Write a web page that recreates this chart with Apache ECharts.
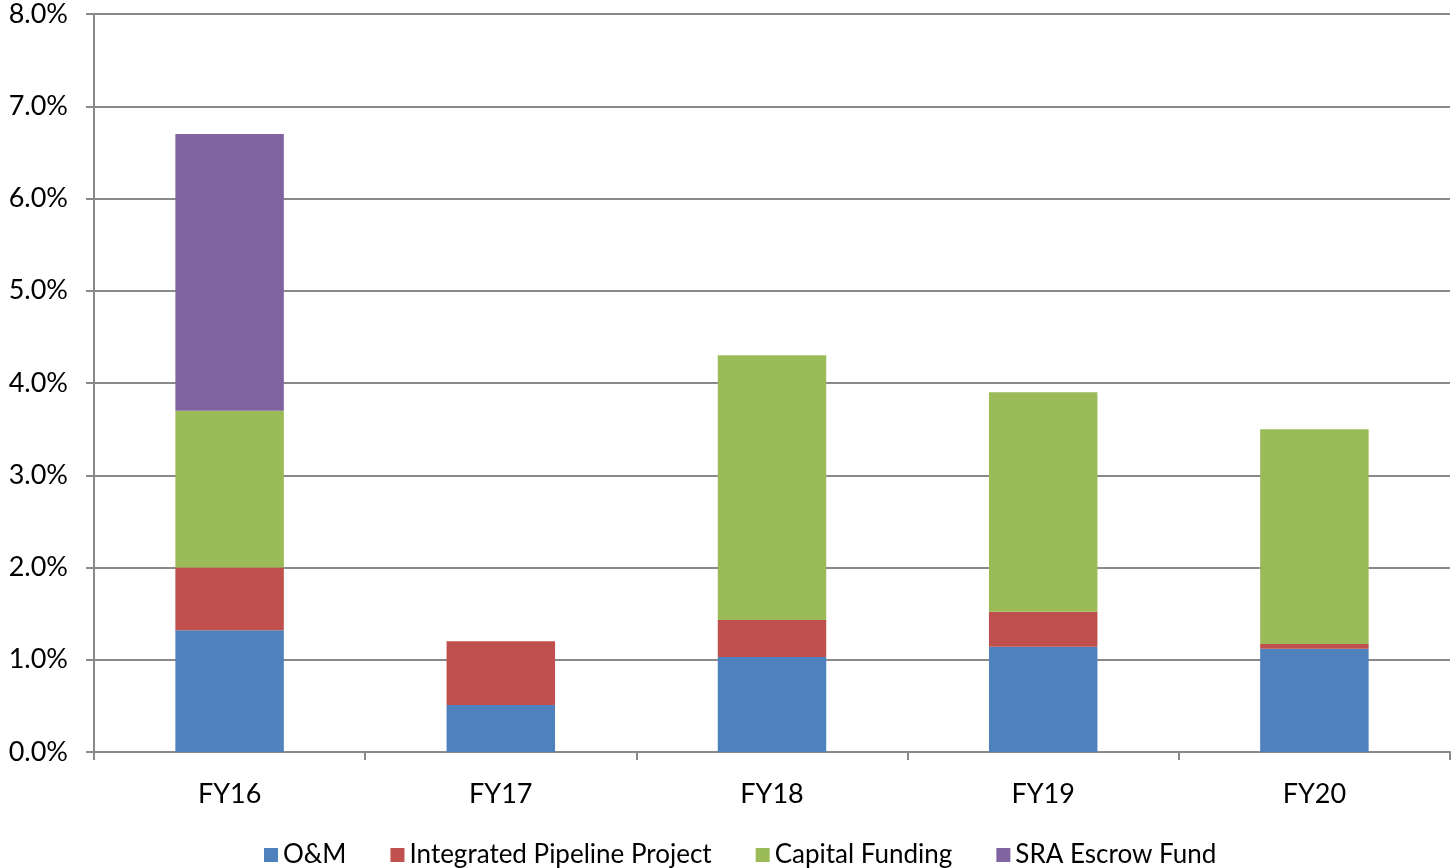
<!DOCTYPE html>
<html>
<head>
<meta charset="utf-8">
<script src="https://cdn.jsdelivr.net/npm/echarts@6/dist/echarts.min.js"></script>
<style>
  html, body { margin: 0; padding: 0; background: #ffffff; }
  #chart { width: 1452px; height: 868px; }
</style>
</head>
<body>
<div id="chart"></div>
<script>
// Rate components by fiscal year (percent)
const categories = ['FY16', 'FY17', 'FY18', 'FY19', 'FY20'];
const omValues = [1.32, 0.51, 1.03, 1.14, 1.12];
const pipelineValues = [0.68, 0.69, 0.40, 0.38, 0.05];
const capitalValues = [1.70, 0, 2.87, 2.38, 2.33];
const escrowValues = [3.00, 0, 0, 0, 0];
const yTicks = [0, 1, 2, 3, 4, 5, 6, 7, 8];

const FONT = 'Lato, "Open Sans", sans-serif';
const chart = echarts.init(document.getElementById('chart'), null, { renderer: 'canvas' });

function series(name, data, color) {
  return {
    name: name,
    type: 'bar',
    stack: 'total',
    barWidth: '40%',
    data: data,
    itemStyle: { color: color },
    emphasis: { disabled: true }
  };
}

chart.setOption({
  animation: false,
  backgroundColor: '#ffffff',
  textStyle: { fontFamily: FONT },
  grid: { left: 94, right: 2, top: 14, bottom: 116, containLabel: false },
  legend: {
    bottom: -5,
    left: 259,
    itemWidth: 14,
    itemHeight: 14,
    itemGap: 44,
    icon: 'rect',
    textStyle: { fontSize: 26, color: '#000', fontFamily: FONT },
    data: ['O&M', 'Integrated Pipeline Project', 'Capital Funding', 'SRA Escrow Fund']
  },
  xAxis: {
    type: 'category',
    data: categories,
    boundaryGap: true,
    axisLine: { show: true, lineStyle: { color: '#898989', width: 2 } },
    axisTick: { show: true, length: 8, alignWithLabel: false, lineStyle: { color: '#898989', width: 2 } },
    axisLabel: { fontSize: 27, color: '#000', margin: 29, fontFamily: FONT }
  },
  yAxis: {
    type: 'value',
    min: yTicks[0],
    max: yTicks[yTicks.length - 1],
    interval: 1,
    axisLine: { show: true, lineStyle: { color: '#898989', width: 2 } },
    axisTick: { show: true, length: 8, lineStyle: { color: '#898989', width: 2 } },
    splitLine: { show: true, lineStyle: { color: '#898989', width: 2 } },
    axisLabel: {
      fontSize: 27,
      color: '#000',
      margin: 26,
      fontFamily: FONT,
      formatter: v => v.toFixed(1) + '%'
    }
  },
  series: [
    series('O&M', omValues, '#4f81bd'),
    series('Integrated Pipeline Project', pipelineValues, '#c0504d'),
    series('Capital Funding', capitalValues, '#9bbb59'),
    series('SRA Escrow Fund', escrowValues, '#8064a2')
  ]
});
</script>
</body>
</html>
